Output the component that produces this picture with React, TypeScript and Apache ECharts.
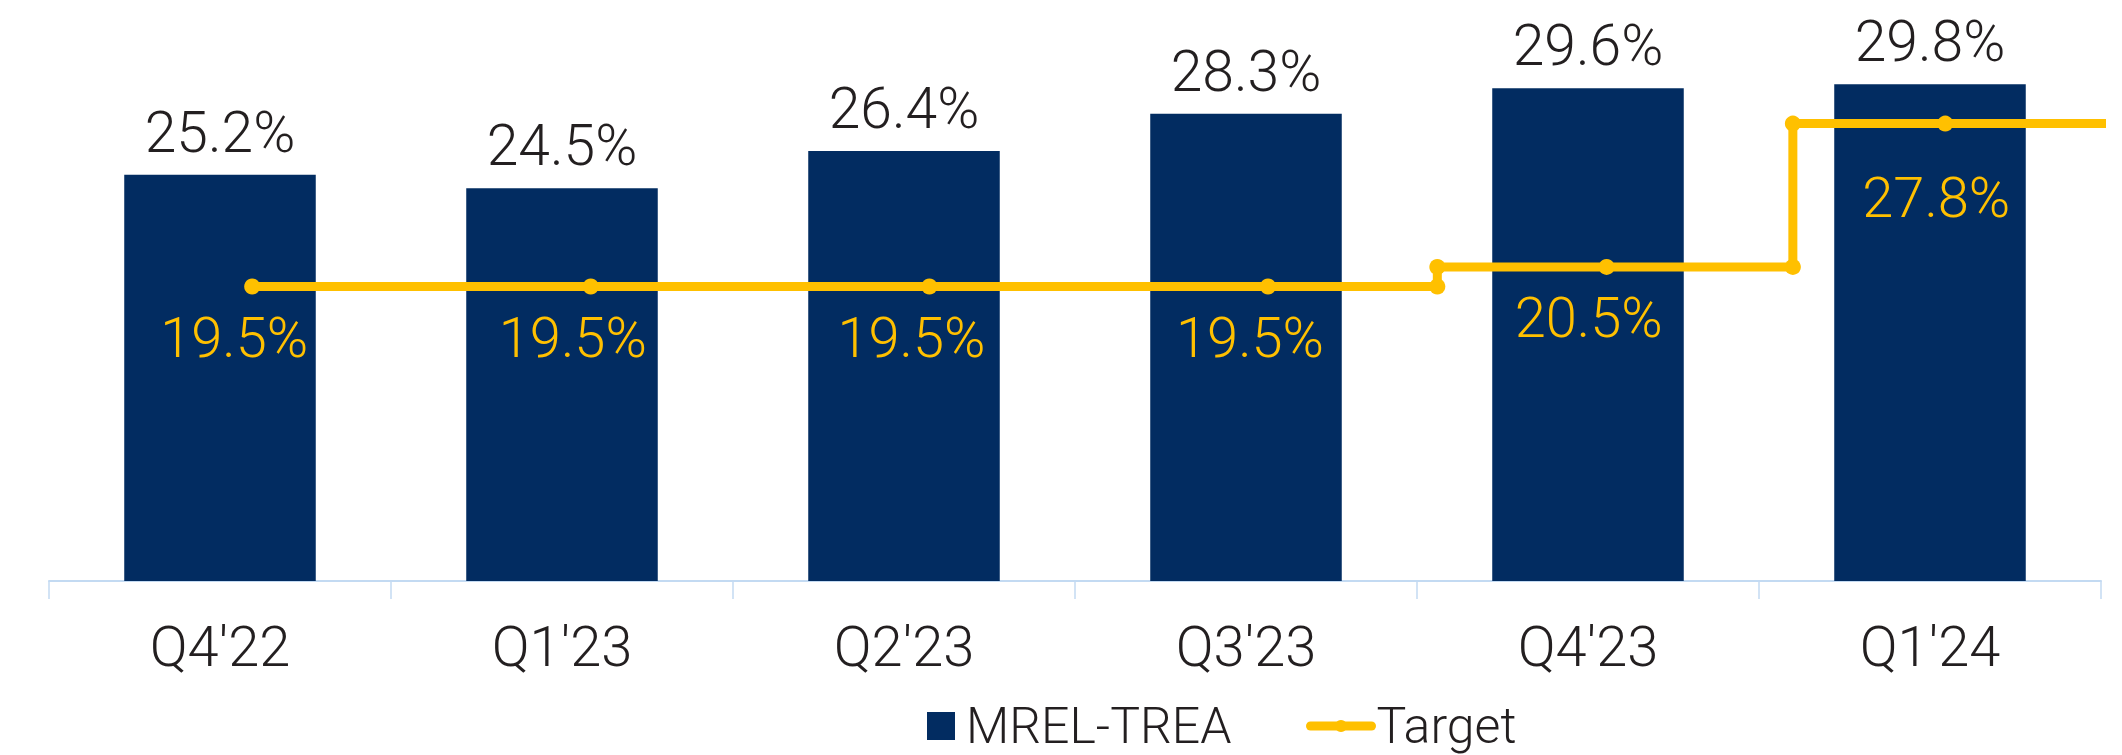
import React, { useEffect, useRef } from "react";
import * as echarts from "echarts";

const categories = ["Q4'22", "Q1'23", "Q2'23", "Q3'23", "Q4'23", "Q1'24"];
const mrelTrea = [25.2, 24.5, 26.4, 28.3, 29.6, 29.8];
// Target line: x in quarter units (0 = Q4'22), including step corners
const targetX = [0, 1, 2, 3, 3.5, 3.5, 4, 4.55, 4.55, 5, 5.5];
const targetY = [19.5, 19.5, 19.5, 19.5, 19.5, 20.5, 20.5, 20.5, 27.8, 27.8, 27.8];
const targetLabelIdx = [0, 1, 2, 3, 6, 9];

const FONT = "Roboto, 'Noto Sans', sans-serif";
const W = 300;
const NAVY = "#022C61";
const GOLD = "#FFC000";
const TEXT = "#231F20";

export default function App() {
  const ref = useRef<HTMLDivElement>(null);
  useEffect(() => {
    if (!ref.current) return;
    const chart = echarts.init(ref.current, null, { renderer: "svg" });
    const lineData = targetX.map((x, i) => {
      const labeled = targetLabelIdx.includes(i);
      const isLast = i === targetX.length - 1;
      const item: any = { value: [x, targetY[i]] };
      if (isLast) item.symbol = "none";
      if (labeled) {
        item.label = {
          show: true,
          position: "bottom",
          distance: i === 9 ? 38 : 15,
          offset: i === 9 ? [-9, 0] : [-18, 0],
        };
      } else {
        item.label = { show: false };
      }
      return item;
    });
    chart.setOption({
      animation: false,
      textStyle: { fontFamily: FONT },
      grid: { left: 49, right: 21, top: 80.4, bottom: 174, containLabel: false },
      legend: [
        {
          data: ["MREL-TREA"],
          left: 927,
          top: 701,
          padding: 0,
          itemWidth: 28,
          itemHeight: 28,
          icon: "rect",
          textStyle: {
            fontSize: 50,
            color: TEXT,
            fontFamily: FONT,
            fontWeight: W,
            padding: [0, 0, 0, 6],
          },
        },
        {
          data: ["Target"],
          left: 1306,
          top: 701,
          padding: 0,
          itemWidth: 61,
          itemHeight: 15,
          lineStyle: { width: 9, cap: "round" },
          textStyle: { fontSize: 50, color: TEXT, fontFamily: FONT, fontWeight: W },
        },
      ],
      xAxis: [
        {
          type: "category",
          data: categories,
          axisLine: { show: true, lineStyle: { color: "#C3DAF2", width: 2 } },
          axisTick: { show: true, length: 18, lineStyle: { color: "#C3DAF2", width: 1.5 } },
          axisLabel: { margin: 38, fontSize: 56, color: TEXT, fontFamily: FONT, fontWeight: W },
          splitLine: { show: false },
        },
        {
          type: "value",
          min: -0.6,
          max: 5.46,
          show: false,
          splitLine: { show: false },
        },
      ],
      yAxis: {
        type: "value",
        min: 4.5,
        max: 30,
        show: false,
        splitLine: { show: false },
      },
      series: [
        {
          name: "MREL-TREA",
          type: "bar",
          data: mrelTrea,
          barCategoryGap: "44%",
          itemStyle: { color: NAVY },
          label: {
            show: true,
            position: "top",
            distance: 14,
            fontSize: 57,
            color: TEXT,
            fontFamily: FONT,
            fontWeight: W,
            formatter: (p: any) => p.value.toFixed(1) + "%",
          },
        },
        {
          name: "Target",
          type: "line",
          xAxisIndex: 1,
          yAxisIndex: 0,
          clip: false,
          data: lineData,
          symbol: "circle",
          symbolSize: 16,
          lineStyle: { color: GOLD, width: 9, cap: "round", join: "round" },
          itemStyle: { color: GOLD },
          label: {
            fontSize: 56,
            color: GOLD,
            fontFamily: FONT,
            fontWeight: W,
            formatter: (p: any) => p.value[1].toFixed(1) + "%",
          },
          z: 5,
        },
      ],
    });
    return () => chart.dispose();
  }, []);
  return (
    <div
      ref={ref}
      style={{ position: "fixed", left: 0, top: 0, width: 2122, height: 755, background: "#fff" }}
    />
  );
}
